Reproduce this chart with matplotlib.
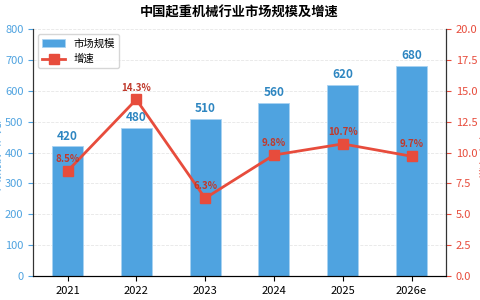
import matplotlib
matplotlib.use('Agg')
import matplotlib.pyplot as plt

plt.rcParams['font.family'] = ['Noto Sans CJK SC', 'DejaVu Sans']
plt.rcParams['axes.unicode_minus'] = False

# data
years = ['2021', '2022', '2023', '2024', '2025', '2026e']
market_size = [420, 480, 510, 560, 620, 680]
growth = [8.5, 14.3, 6.3, 9.8, 10.7, 9.7]

bar_color = '#4fa3e0'
line_color = '#e74c3c'

fig, ax = plt.subplots(figsize=(4.8, 3.0), dpi=100)
fig.subplots_adjust(left=0.069, right=0.929, top=0.903, bottom=0.08)

x = list(range(len(years)))
bars = ax.bar(x, market_size, width=0.45, color=bar_color, edgecolor='#a9d3f2',
              linewidth=0.6, label='市场规模', zorder=2)
for xi, v in zip(x, market_size):
    ax.text(xi, v + 12, str(v), ha='center', va='bottom', fontsize=8.5,
            fontweight='bold', color='#2e86c1')

ax.set_ylim(0, 800)
ax.set_yticks(range(0, 801, 100))
ax.set_xlim(-0.5, 5.5)
ax.set_xticks(x)
ax.set_xticklabels(years, fontsize=8)
ax.tick_params(axis='y', colors=bar_color, labelsize=8)
ax.set_ylabel('市场规模（亿元）', color=bar_color, fontsize=7.5, labelpad=2)
ax.grid(axis='y', linestyle='--', color='#e6e6e6', linewidth=0.6, zorder=0)
ax.spines['top'].set_visible(False)
ax.spines['left'].set_color('#333333')
ax.spines['bottom'].set_color('#333333')

ax2 = ax.twinx()
line, = ax2.plot(x, growth, color=line_color, marker='s', markersize=6.5,
                 linewidth=2, label='增速', zorder=3)
for xi, g in zip(x, growth):
    ax2.text(xi, g + 0.55, f'{g}%', ha='center', va='bottom', fontsize=7,
             fontweight='bold', color='#c0392b')
ax2.set_ylim(0, 20)
ax2.set_yticks([i * 2.5 for i in range(9)])
ax2.tick_params(axis='y', colors=line_color, labelsize=8)
ax2.set_ylabel('增速（%）', color=line_color, fontsize=7.5, labelpad=2)
ax2.spines['top'].set_visible(False)
ax2.spines['right'].set_color('#333333')
ax2.spines['left'].set_color('#333333')

ax.legend([bars, line], ['市场规模', '增速'], loc='upper left', fontsize=7.5,
          frameon=True, borderpad=0.4, handlelength=2.2)

ax.set_title('中国起重机械行业市场规模及增速', fontsize=9.5, fontweight='bold', pad=9)

plt.savefig('out.png', dpi=100)
